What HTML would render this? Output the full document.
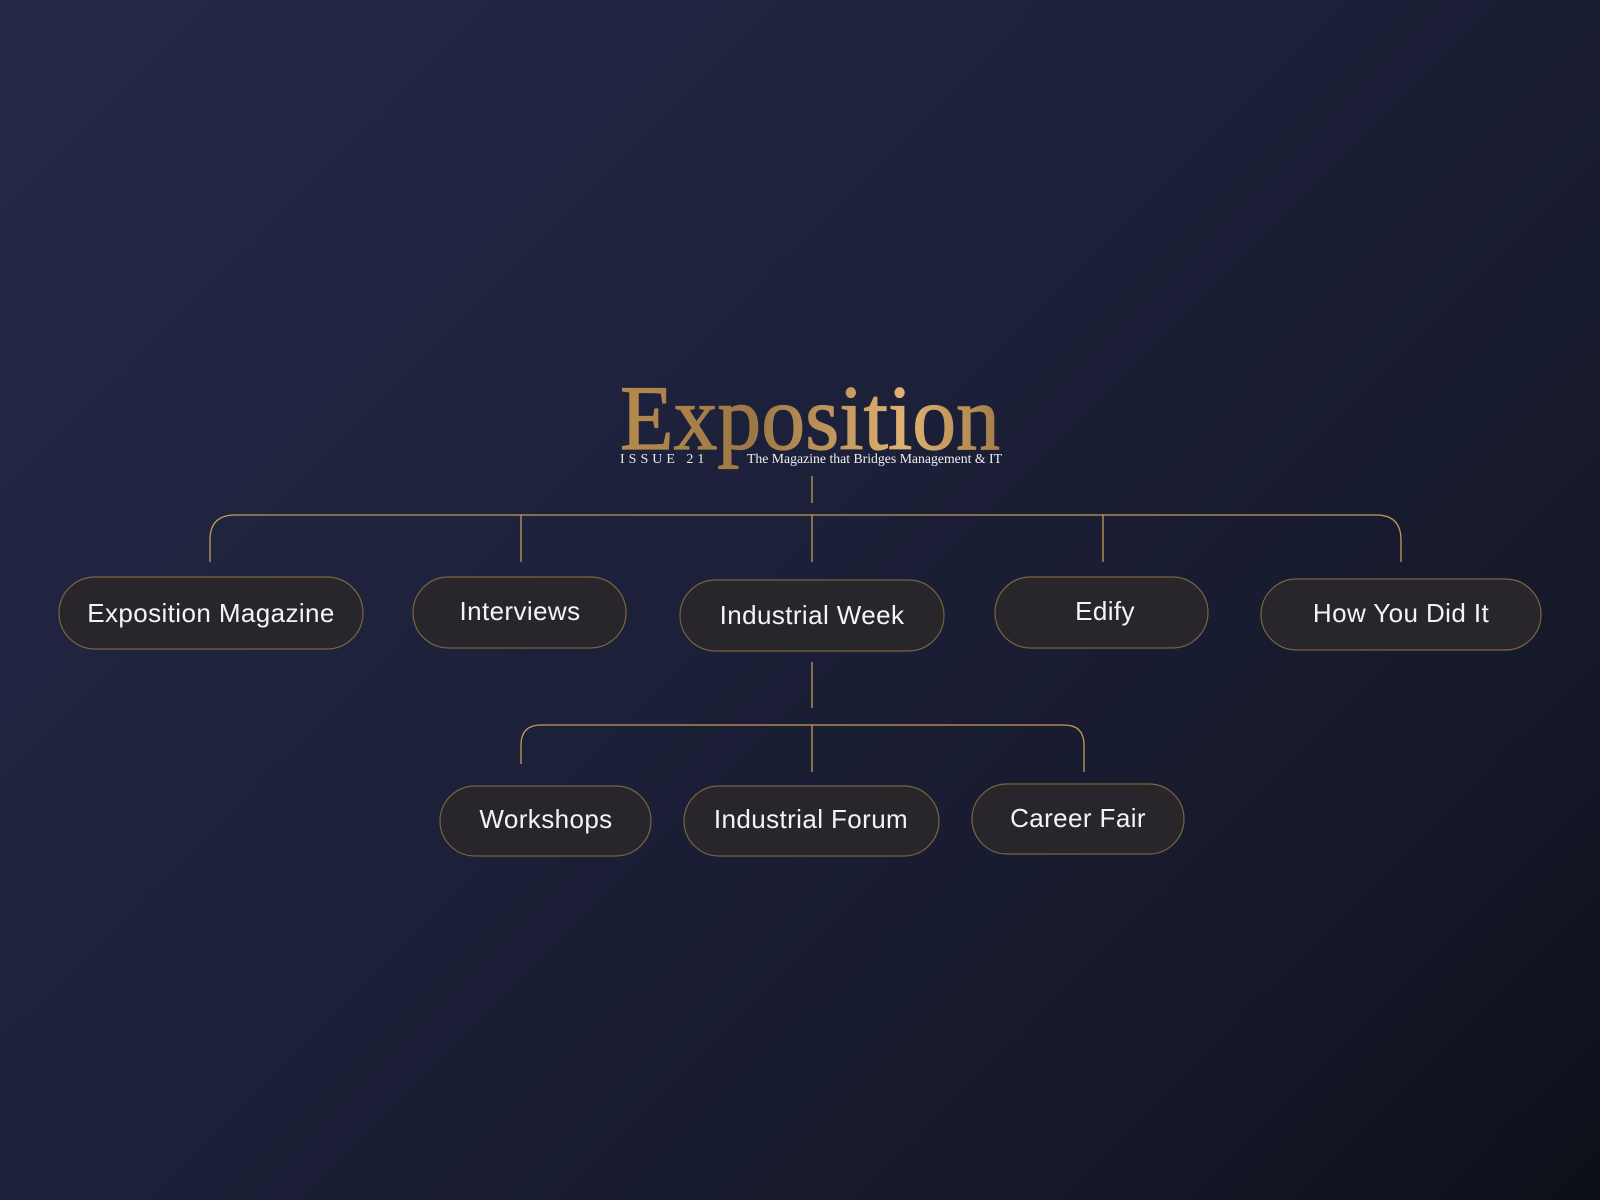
<!DOCTYPE html>
<html><head><meta charset="utf-8"><style>
html,body{margin:0;padding:0;width:1600px;height:1200px;overflow:hidden;}
body{background:linear-gradient(135deg,#242948 0%,#1c2039 45%,#171a2c 75%,#0d0f18 100%);}
svg{display:block}
</style></head><body>
<svg width="1600" height="1200" xmlns="http://www.w3.org/2000/svg">
<defs>
<linearGradient id="gold" x1="0" y1="0" x2="1" y2="0">
<stop offset="0" stop-color="#b58a4e"/><stop offset="0.35" stop-color="#9c7744"/><stop offset="0.75" stop-color="#e0b273"/><stop offset="1" stop-color="#a47c46"/>
</linearGradient>
</defs>
<text x="620" y="449" font-family="Liberation Serif, serif" font-size="92" fill="url(#gold)" stroke="url(#gold)" stroke-width="1.2" textLength="380" lengthAdjust="spacingAndGlyphs">Exposition</text>
<text x="620" y="463" font-family="Liberation Serif, serif" font-size="14" fill="#e8e8e8" letter-spacing="4">ISSUE 21</text>
<text x="747" y="463" font-family="Liberation Serif, serif" font-size="13.5" fill="#f0f0f0" textLength="255" lengthAdjust="spacingAndGlyphs">The Magazine that Bridges Management &amp; IT</text>
<g stroke="#c79a55" stroke-width="1.3" fill="none">
<line x1="812" y1="476" x2="812" y2="503"/>
<path d="M210 562 V540 Q210 515 235 515 H1376 Q1401 515 1401 540 V562"/>
<line x1="521" y1="515" x2="521" y2="562"/>
<line x1="812" y1="515" x2="812" y2="562"/>
<line x1="1103" y1="515" x2="1103" y2="562"/>
<line x1="812" y1="662" x2="812" y2="708"/>
<path d="M521 764 V745 Q521 725 541 725 H1064 Q1084 725 1084 745 V772"/>
<line x1="812" y1="725" x2="812" y2="772"/>
</g>
<g fill="#28262b" stroke="#7a6443" stroke-width="1.2">
<rect x="59" y="577" width="304" height="72" rx="36"/>
<rect x="413" y="577" width="213" height="71" rx="35.5"/>
<rect x="680" y="580" width="264" height="71" rx="35.5"/>
<rect x="995" y="577" width="213" height="71" rx="35.5"/>
<rect x="1261" y="579" width="280" height="71" rx="35.5"/>
<rect x="440" y="786" width="211" height="70" rx="35"/>
<rect x="684" y="786" width="255" height="70" rx="35"/>
<rect x="972" y="784" width="212" height="70" rx="35"/>
</g>
<g font-family="Liberation Sans, sans-serif" font-size="26" fill="#f4f4f4" text-anchor="middle" letter-spacing="0.4">
<text x="211" y="622">Exposition Magazine</text>
<text x="520" y="620">Interviews</text>
<text x="812" y="624">Industrial Week</text>
<text x="1105" y="620">Edify</text>
<text x="1401" y="622">How You Did It</text>
<text x="546" y="828">Workshops</text>
<text x="811" y="828">Industrial Forum</text>
<text x="1078" y="827">Career Fair</text>
</g>
</svg>
</body></html>
